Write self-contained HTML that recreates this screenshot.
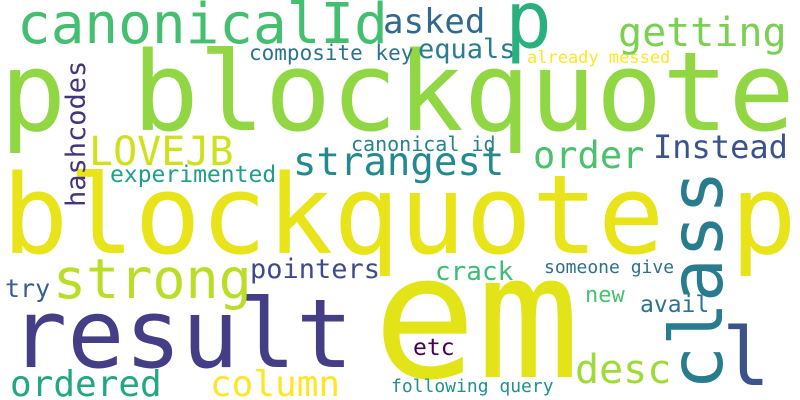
<!DOCTYPE html>
<html><head><meta charset="utf-8"><style>
html,body{margin:0;padding:0;background:#fff;}
svg{display:block}
text{font-family:"DejaVu Sans Mono","Liberation Mono",monospace;}
</style></head><body>
<svg width="800" height="400" viewBox="0 0 800 400">
<rect width="800" height="400" fill="#fff"/>
<text x="0" y="130" font-size="110" fill="#90d743">p blockquote</text>
<text x="2" y="253" font-size="110" fill="#e8e419">blockquote p</text>
<text x="373" y="377" font-size="172" fill="#e2e418">em</text>
<text x="10" y="367" font-size="95" fill="#433e85">result</text>
<text x="17" y="43" font-size="56" fill="#44bf70">canonicalId</text>
<text x="53" y="298" font-size="55" fill="#bade28">strong</text>
<text x="10" y="396" font-size="36" fill="#22a785">ordered</text>
<text x="210" y="396" font-size="36" fill="#fde725">column</text>
<text x="250" y="278" font-size="27" fill="#3e4a89">pointers</text>
<text x="5" y="297" font-size="25" fill="#35608d">try</text>
<text x="89" y="165" font-size="40" fill="#d0e11c">LOVEJB</text>
<text transform="translate(85,207) rotate(-90)" font-size="27" fill="#46337e">hashcodes</text>
<text x="110" y="182" font-size="23" fill="#1f9e89">experimented</text>
<text x="249" y="60" font-size="21" fill="#2c728e">composite key</text>
<text x="293" y="175" font-size="39" fill="#23898e">strangest</text>
<text x="351" y="151" font-size="20" fill="#26828e">canonical id</text>
<text x="383" y="33" font-size="34" fill="#31688e">asked</text>
<text x="418" y="58" font-size="27" fill="#287d8e">equals</text>
<text x="505" y="47" font-size="78" fill="#2ab07f">p</text>
<text x="527" y="63" font-size="17" fill="#fde725">already messed</text>
<text x="618" y="46" font-size="40" fill="#7ad151">getting</text>
<text x="533" y="168" font-size="37" fill="#4ac16d">order</text>
<text x="653" y="158" font-size="32" fill="#3b528b">Instead</text>
<text transform="translate(722,390) rotate(-90)" font-size="73" fill="#297b8e">class</text>
<text x="722" y="385" font-size="80" fill="#3b528b">l</text>
<text x="575" y="383" font-size="40" fill="#a0da39">desc</text>
<text x="435" y="280" font-size="26" fill="#3dbc74">crack</text>
<text x="544" y="273" font-size="18" fill="#2d708e">someone give</text>
<text x="585" y="302" font-size="22" fill="#4ac16d">new</text>
<text x="640" y="312" font-size="23" fill="#2c728e">avail</text>
<text x="413" y="355" font-size="23" fill="#440154">etc</text>
<text x="391" y="392" font-size="18" fill="#21918c">following query</text>
</svg>
</body></html>
